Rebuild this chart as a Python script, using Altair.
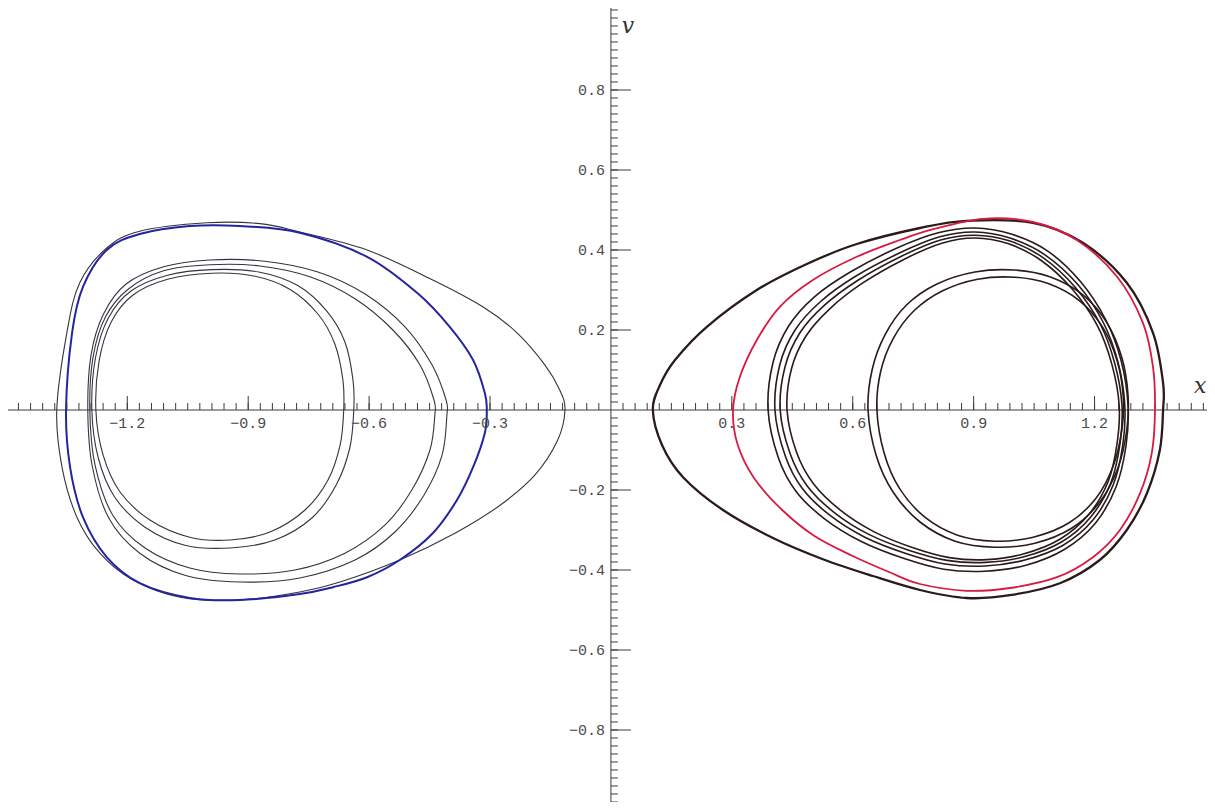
import altair as alt
import pandas as pd

W, H = 1199, 794
X_DOMAIN = [-1.496, 1.479]
Y_DOMAIN = [-0.98, 1.005]

# ---------------- axis ticks / labels ----------------
x_major = [-1.2, -0.9, -0.6, -0.3, 0.3, 0.6, 0.9, 1.2]
x_major_labels = ["\u22121.2", "\u22120.9", "\u22120.6", "\u22120.3", "0.3", "0.6", "0.9", "1.2"]
y_major = [0.8, 0.6, 0.4, 0.2, -0.2, -0.4, -0.6, -0.8]
y_major_labels = ["0.8", "0.6", "0.4", "0.2", "\u22120.2", "\u22120.4", "\u22120.6", "\u22120.8"]
x_minor = [round(k * 0.03, 2) for k in range(-49, 50) if k != 0]
y_minor = [round(k * 0.02, 2) for k in range(-49, 51) if k != 0]

# ---------------- left attractor ----------------
blue_x = [-1.352, -1.337, -1.310, -1.251, -1.169, -1.045, -0.921, -0.772, -0.605, -0.481, -0.400, -0.342, -0.313, -0.308,
          -0.313, -0.342, -0.382, -0.442, -0.524, -0.605, -0.690, -0.772, -0.921, -1.045, -1.169, -1.251, -1.310, -1.342]
blue_y = [0, 0.193, 0.308, 0.400, 0.440, 0.460, 0.460, 0.443, 0.383, 0.293, 0.208, 0.125, 0.043, 0,
          -0.058, -0.143, -0.225, -0.308, -0.375, -0.418, -0.443, -0.460, -0.475, -0.470, -0.433, -0.368, -0.268, -0.143]

lk_x = [-1.375, -1.350, -1.318, -1.251, -1.169, -1.002, -0.871, -0.772, -0.605, -0.442, -0.318, -0.233, -0.164, -0.127,
        -0.114, -0.132, -0.189, -0.275, -0.387, -0.524, -0.672, -0.772, -0.921, -1.069, -1.186, -1.268, -1.325, -1.362]
lk_y = [0, 0.193, 0.318, 0.405, 0.447, 0.468, 0.466, 0.445, 0.400, 0.325, 0.258, 0.193, 0.113, 0.050,
        0, -0.075, -0.163, -0.238, -0.308, -0.375, -0.430, -0.455, -0.475, -0.468, -0.425, -0.358, -0.268, -0.143]

la_x = [-1.278, -1.270, -1.240, -1.185, -1.100, -0.990, -0.886, -0.797, -0.727, -0.685, -0.665, -0.663, -0.672, -0.702,
        -0.759, -0.846, -0.945, -1.045, -1.144, -1.218, -1.260]
la_y = [0, 0.122, 0.220, 0.288, 0.327, 0.342, 0.335, 0.302, 0.240, 0.165, 0.075, 0, -0.088, -0.175,
        -0.250, -0.305, -0.325, -0.318, -0.275, -0.205, -0.113]

lb_x = [-1.288, -1.279, -1.247, -1.190, -1.100, -0.990, -0.874, -0.777, -0.705, -0.660, -0.640, -0.638, -0.648, -0.682,
        -0.742, -0.834, -0.945, -1.057, -1.156, -1.231, -1.272]
lb_y = [0, 0.130, 0.230, 0.298, 0.337, 0.351, 0.345, 0.311, 0.247, 0.170, 0.075, 0, -0.095, -0.188,
        -0.270, -0.325, -0.345, -0.338, -0.293, -0.218, -0.120]

lc_x = [-1.293, -1.285, -1.254, -1.198, -1.110, -0.995, -0.871, -0.747, -0.635, -0.541, -0.474, -0.439, -0.437, -0.449,
        -0.494, -0.561, -0.660, -0.784, -0.921, -1.045, -1.156, -1.236, -1.280]
lc_y = [0, 0.132, 0.233, 0.302, 0.348, 0.363, 0.360, 0.333, 0.278, 0.200, 0.113, 0.025, -0.013, -0.100,
        -0.200, -0.288, -0.358, -0.400, -0.410, -0.395, -0.345, -0.263, -0.138]

ld_x = [-1.298, -1.290, -1.259, -1.203, -1.110, -0.995, -0.859, -0.727, -0.610, -0.511, -0.444, -0.409, -0.407, -0.419,
        -0.464, -0.536, -0.635, -0.772, -0.921, -1.057, -1.169, -1.246, -1.287]
ld_y = [0, 0.137, 0.240, 0.315, 0.358, 0.375, 0.372, 0.345, 0.290, 0.208, 0.113, 0.025, -0.013, -0.113,
        -0.213, -0.305, -0.375, -0.420, -0.430, -0.413, -0.358, -0.270, -0.140]

# ---------------- right attractor ----------------
red_x = [0.303, 0.320, 0.362, 0.419, 0.501, 0.610, 0.717, 0.800, 0.923, 1.047, 1.156, 1.256, 1.320, 1.345, 1.350,
         1.342, 1.313, 1.263, 1.196, 1.107, 0.990, 0.883, 0.767, 0.690, 0.600, 0.505, 0.425, 0.355, 0.314]
red_y = [0, 0.083, 0.175, 0.258, 0.325, 0.383, 0.425, 0.452, 0.478, 0.470, 0.425, 0.333, 0.218, 0.108, 0,
         -0.108, -0.208, -0.300, -0.368, -0.418, -0.445, -0.452, -0.435, -0.405, -0.365, -0.315, -0.250, -0.170, -0.085]

rk_x = [0.104, 0.122, 0.159, 0.238, 0.362, 0.486, 0.610, 0.767, 0.883, 1.047, 1.171, 1.280, 1.345, 1.370, 1.370,
        1.362, 1.330, 1.280, 1.213, 1.114, 0.990, 0.883, 0.767, 0.650, 0.526, 0.402, 0.278, 0.179, 0.127]
rk_y = [0, 0.063, 0.125, 0.208, 0.300, 0.365, 0.415, 0.455, 0.473, 0.468, 0.418, 0.318, 0.193, 0.068, 0,
        -0.100, -0.208, -0.300, -0.375, -0.433, -0.463, -0.470, -0.450, -0.415, -0.373, -0.320, -0.250, -0.168, -0.088]

m1_x = [0.390, 0.402, 0.441, 0.505, 0.594, 0.710, 0.812, 0.903, 0.993, 1.083, 1.166, 1.228, 1.266, 1.283, 1.278,
        1.253, 1.202, 1.126, 1.030, 0.928, 0.826, 0.724, 0.620, 0.530, 0.459, 0.415]
m1_y = [0, 0.118, 0.210, 0.283, 0.345, 0.405, 0.443, 0.455, 0.440, 0.398, 0.320, 0.225, 0.123, 0.013, -0.090,
        -0.193, -0.283, -0.348, -0.388, -0.403, -0.398, -0.370, -0.328, -0.272, -0.203, -0.118]

m2_x = [0.407, 0.419, 0.457, 0.519, 0.605, 0.717, 0.816, 0.903, 0.990, 1.077, 1.159, 1.221, 1.258, 1.275, 1.270,
        1.246, 1.196, 1.122, 1.027, 0.928, 0.829, 0.730, 0.630, 0.543, 0.474, 0.432]
m2_y = [0, 0.113, 0.200, 0.270, 0.333, 0.393, 0.433, 0.445, 0.430, 0.388, 0.313, 0.220, 0.120, 0.013, -0.088,
        -0.188, -0.275, -0.338, -0.375, -0.390, -0.385, -0.358, -0.318, -0.263, -0.195, -0.113]

m3_x = [0.420, 0.432, 0.469, 0.530, 0.614, 0.722, 0.818, 0.903, 0.988, 1.072, 1.152, 1.214, 1.250, 1.268, 1.263,
        1.240, 1.190, 1.118, 1.025, 0.930, 0.834, 0.737, 0.640, 0.555, 0.487, 0.445]
m3_y = [0, 0.108, 0.193, 0.262, 0.325, 0.385, 0.425, 0.437, 0.423, 0.381, 0.307, 0.215, 0.117, 0.013, -0.085,
        -0.183, -0.268, -0.330, -0.367, -0.381, -0.376, -0.350, -0.311, -0.257, -0.190, -0.110]

m4_x = [0.437, 0.448, 0.484, 0.543, 0.624, 0.728, 0.821, 0.903, 0.985, 1.066, 1.145, 1.207, 1.243, 1.261, 1.256,
        1.234, 1.185, 1.114, 1.023, 0.932, 0.840, 0.746, 0.652, 0.570, 0.503, 0.461]
m4_y = [0, 0.103, 0.185, 0.253, 0.317, 0.377, 0.417, 0.430, 0.416, 0.375, 0.302, 0.211, 0.114, 0.012, -0.083,
        -0.178, -0.262, -0.323, -0.360, -0.374, -0.369, -0.343, -0.304, -0.251, -0.185, -0.107]

i1_x = [0.638, 0.648, 0.680, 0.734, 0.809, 0.903, 1.002, 1.089, 1.171, 1.231, 1.268, 1.283, 1.280, 1.258, 1.213,
        1.144, 1.052, 0.953, 0.854, 0.767, 0.700, 0.658]
i1_y = [0, 0.100, 0.188, 0.263, 0.315, 0.345, 0.350, 0.333, 0.288, 0.218, 0.130, 0.038, -0.050, -0.145, -0.230,
        -0.295, -0.333, -0.343, -0.328, -0.280, -0.205, -0.113]

i2_x = [0.660, 0.669, 0.700, 0.752, 0.823, 0.910, 1.002, 1.085, 1.163, 1.220, 1.256, 1.271, 1.268, 1.247, 1.204,
        1.137, 1.048, 0.953, 0.860, 0.779, 0.716, 0.678]
i2_y = [0, 0.095, 0.178, 0.248, 0.298, 0.327, 0.332, 0.316, 0.273, 0.207, 0.123, 0.035, -0.048, -0.138, -0.220,
        -0.282, -0.318, -0.328, -0.313, -0.268, -0.196, -0.108]

# axis-name label positions (data units)
x_name_pos = (1.462, 0.0)
v_name_pos = (0.0, 0.96)


def loops_df(loops):
    rows = []
    for name, xs_, ys_ in loops:
        for i, (a, b) in enumerate(zip(xs_, ys_)):
            rows.append({"loop": name, "i": i, "x": a, "y": b})
    return pd.DataFrame(rows)


xsc = alt.Scale(domain=X_DOMAIN, nice=False, zero=False)
ysc = alt.Scale(domain=Y_DOMAIN, nice=False, zero=False)


def XQ(f):
    return alt.X(f, type="quantitative", scale=xsc, axis=None)


def YQ(f):
    return alt.Y(f, type="quantitative", scale=ysc, axis=None)


def curves(df, color, width):
    return alt.Chart(df).mark_line(
        interpolate="cardinal-closed", color=color, strokeWidth=width, strokeJoin="round"
    ).encode(
        x=XQ("x"),
        y=YQ("y"),
        detail="loop:N",
        order="i:Q",
    )


left_black = curves(loops_df([("lk", lk_x, lk_y), ("la", la_x, la_y), ("lb", lb_x, lb_y),
                              ("lc", lc_x, lc_y), ("ld", ld_x, ld_y)]), "#34343e", 1.1)
blue = curves(loops_df([("blue", blue_x, blue_y)]), "#2424a0", 2.0)
right_black = curves(loops_df([("m1", m1_x, m1_y), ("m2", m2_x, m2_y), ("m3", m3_x, m3_y), ("m4", m4_x, m4_y),
                               ("i1", i1_x, i1_y), ("i2", i2_x, i2_y)]), "#2a1a1a", 1.6)
right_outer = curves(loops_df([("rk", rk_x, rk_y)]), "#2a1a1a", 2.3)
red = curves(loops_df([("red", red_x, red_y)]), "#d81a40", 1.8)

AX = "#3a3a3a"
origin = pd.DataFrame({"z": [0.0], "lo_x": [X_DOMAIN[0]], "hi_x": [X_DOMAIN[1]],
                       "lo_y": [Y_DOMAIN[0]], "hi_y": [Y_DOMAIN[1]]})

x_axis = alt.Chart(origin).mark_rule(color=AX, strokeWidth=1).encode(
    y=YQ("z"), x=XQ("lo_x"), x2="hi_x")
y_axis = alt.Chart(origin).mark_rule(color=AX, strokeWidth=1).encode(
    x=XQ("z"), y=YQ("lo_y"), y2="hi_y")


def xticks(vals, length):
    df = pd.DataFrame({"t": vals, "z": [0.0] * len(vals)})
    return alt.Chart(df).mark_rule(color=AX, strokeWidth=1, y2Offset=-length).encode(
        x=XQ("t"), y=YQ("z"), y2="z")


def yticks(vals, length):
    df = pd.DataFrame({"t": vals, "z": [0.0] * len(vals)})
    return alt.Chart(df).mark_rule(color=AX, strokeWidth=1, x2Offset=length).encode(
        y=YQ("t"), x=XQ("z"), x2="z")


x_lab_df = pd.DataFrame({"t": x_major, "lab": x_major_labels, "z": [0.0] * len(x_major)})
y_lab_df = pd.DataFrame({"t": y_major, "lab": y_major_labels, "z": [0.0] * len(y_major)})

x_labels = alt.Chart(x_lab_df).mark_text(
    font="Liberation Mono", fontSize=15, color="#4a4a4a", align="center", baseline="middle", dy=13
).encode(x=XQ("t"), y=YQ("z"), text="lab:N")
y_labels = alt.Chart(y_lab_df).mark_text(
    font="Liberation Mono", fontSize=15, color="#4a4a4a", align="right", baseline="middle", dx=-6
).encode(y=YQ("t"), x=XQ("z"), text="lab:N")

names_df = pd.DataFrame({"nx": [x_name_pos[0], v_name_pos[0]], "ny": [x_name_pos[1], v_name_pos[1]],
                         "lab": ["x", "v"]})
x_name = alt.Chart(names_df[names_df.lab == "x"]).mark_text(
    font="DejaVu Serif", fontStyle="italic", fontSize=22, color="#333",
    align="center", baseline="middle", dy=-24
).encode(x=XQ("nx"), y=YQ("ny"), text="lab:N")
v_name = alt.Chart(names_df[names_df.lab == "v"]).mark_text(
    font="DejaVu Serif", fontStyle="italic", fontSize=22, color="#333",
    align="center", baseline="middle", dx=17
).encode(x=XQ("nx"), y=YQ("ny"), text="lab:N")

chart = alt.layer(
    x_axis, y_axis, xticks(x_minor, 7), xticks(x_major, 14), yticks(y_minor, 7), yticks(y_major, 20),
    left_black, right_black, right_outer, blue, red,
    x_labels, y_labels, x_name, v_name,
).properties(
    width=W, height=H, padding=0, autosize=alt.AutoSizeParams(type="none"),
    background="white",
).configure_view(stroke=None)

chart.save("out.html", embed_options={"renderer": "svg", "actions": False})
